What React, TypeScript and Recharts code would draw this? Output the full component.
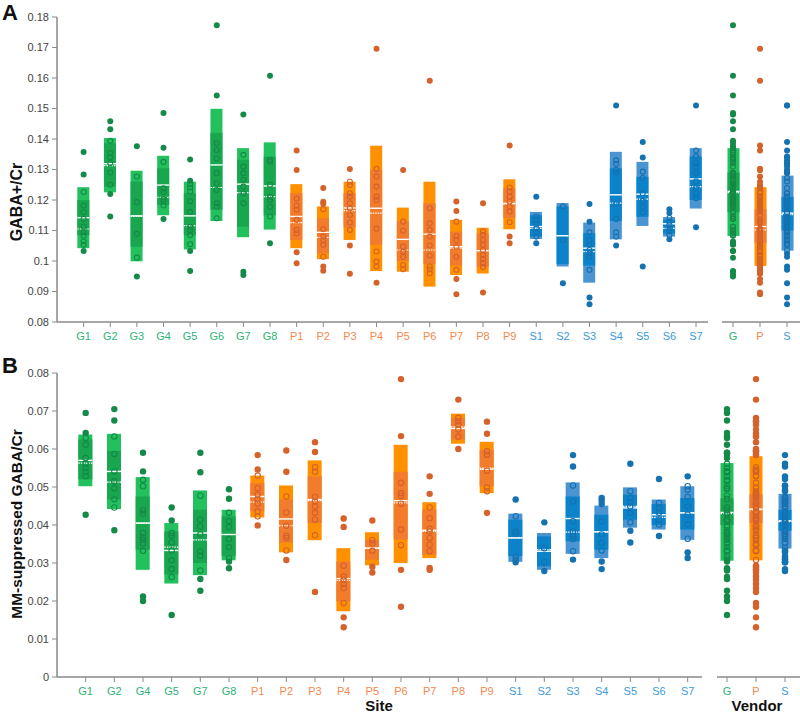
import React from "react"
import { ComposedChart, Bar, Scatter, XAxis, YAxis } from "recharts"

// ---- Panel A: GABA+/Cr ----
const sitesA = ["G1", "G2", "G3", "G4", "G5", "G6", "G7", "G8", "P1", "P2", "P3", "P4", "P5", "P6", "P7", "P8", "P9", "S1", "S2", "S3", "S4", "S5", "S6", "S7"]
const outerHiA = [0.1242, 0.1403, 0.1296, 0.1345, 0.126, 0.1499, 0.137, 0.1389, 0.1252, 0.1179, 0.126, 0.1378, 0.1175, 0.126, 0.1135, 0.1109, 0.1268, 0.1161, 0.119, 0.1126, 0.1358, 0.1325, 0.1144, 0.137]
const outerLoA = [0.1042, 0.1225, 0.0999, 0.115, 0.1038, 0.1131, 0.1078, 0.1103, 0.1042, 0.1006, 0.1069, 0.0967, 0.0965, 0.0916, 0.0954, 0.0959, 0.1104, 0.1072, 0.0982, 0.0929, 0.1071, 0.1115, 0.108, 0.1172]
const innerHiA = [0.12, 0.1386, 0.126, 0.1304, 0.1222, 0.142, 0.1332, 0.1342, 0.1222, 0.114, 0.1222, 0.1299, 0.113, 0.1189, 0.1096, 0.109, 0.1238, 0.115, 0.1179, 0.1091, 0.1304, 0.1276, 0.1135, 0.1343]
const innerLoA = [0.1085, 0.1244, 0.1047, 0.1184, 0.1085, 0.1168, 0.1113, 0.115, 0.1069, 0.1025, 0.111, 0.1053, 0.1, 0.099, 0.0985, 0.098, 0.1141, 0.108, 0.099, 0.0985, 0.1131, 0.1145, 0.109, 0.12]
const meanA = [0.1142, 0.1319, 0.1148, 0.1249, 0.1148, 0.1315, 0.1252, 0.1246, 0.1146, 0.1094, 0.1174, 0.1173, 0.1071, 0.1088, 0.1047, 0.1034, 0.1189, 0.1113, 0.1083, 0.1042, 0.1217, 0.1219, 0.1122, 0.1269]
const medianA = [0.1105, 0.1313, 0.1146, 0.1209, 0.1116, 0.1241, 0.1224, 0.1211, 0.1126, 0.1077, 0.1165, 0.1157, 0.1036, 0.1036, 0.1042, 0.1034, 0.1187, 0.1107, 0.1083, 0.1031, 0.119, 0.1203, 0.1107, 0.1244]
const pointsA = [
  [0.1357, 0.1284, 0.1226, 0.1182, 0.116, 0.1138, 0.1113, 0.1094, 0.1083, 0.1064, 0.1053, 0.1033],
  [0.1458, 0.1432, 0.1394, 0.1354, 0.134, 0.1321, 0.129, 0.125, 0.122, 0.1146],
  [0.1376, 0.1277, 0.1193, 0.1089, 0.1011, 0.0949],
  [0.1485, 0.1371, 0.1325, 0.1238, 0.1226, 0.1203, 0.1195, 0.1182, 0.1138],
  [0.1333, 0.1263, 0.1252, 0.1241, 0.1228, 0.1196, 0.1161, 0.1112, 0.1102, 0.1085, 0.1055, 0.1033, 0.0967],
  [0.1773, 0.1543, 0.1386, 0.1364, 0.1336, 0.1288, 0.1255, 0.1233, 0.1189, 0.1178, 0.114],
  [0.148, 0.1348, 0.131, 0.1288, 0.1266, 0.1244, 0.1222, 0.1189, 0.0965, 0.0954],
  [0.1607, 0.1332, 0.1326, 0.125, 0.1211, 0.12, 0.1178, 0.1146, 0.1058],
  [0.1362, 0.1298, 0.1205, 0.1182, 0.1168, 0.1135, 0.1102, 0.1091, 0.1029, 0.0993],
  [0.1239, 0.1194, 0.1188, 0.117, 0.1104, 0.108, 0.1069, 0.1053, 0.1014, 0.0982, 0.0968],
  [0.1302, 0.126, 0.1249, 0.1222, 0.1211, 0.1189, 0.1173, 0.1151, 0.1126, 0.1102, 0.1051, 0.0958],
  [0.1696, 0.1302, 0.1277, 0.1244, 0.1211, 0.12, 0.1106, 0.1031, 0.0998, 0.0982, 0.0929],
  [0.1298, 0.1129, 0.1099, 0.1047, 0.1031, 0.1014, 0.0987, 0.0973],
  [0.1591, 0.1173, 0.1124, 0.1102, 0.108, 0.1051, 0.1018, 0.0982, 0.0973, 0.096],
  [0.1195, 0.1164, 0.1129, 0.1082, 0.1069, 0.1047, 0.1014, 0.0971, 0.0941, 0.0891],
  [0.1189, 0.1097, 0.1086, 0.1069, 0.1053, 0.1036, 0.102, 0.1006, 0.0993, 0.098, 0.0897],
  [0.1379, 0.1241, 0.1228, 0.1211, 0.1195, 0.1178, 0.1162, 0.1127, 0.108, 0.1058],
  [0.1211, 0.1146, 0.1135, 0.1122, 0.1107, 0.1094, 0.108, 0.1058],
  [0.1179, 0.1069, 0.0927],
  [0.1187, 0.1129, 0.1094, 0.1069, 0.1053, 0.1036, 0.1025, 0.1014, 0.0971, 0.088, 0.0858],
  [0.151, 0.133, 0.1319, 0.1299, 0.129, 0.1187, 0.1138, 0.1094, 0.108, 0.1051],
  [0.139, 0.1339, 0.1293, 0.1272, 0.1222, 0.1197, 0.1178, 0.1159, 0.0982],
  [0.117, 0.1157, 0.1141, 0.1129, 0.1118, 0.1107, 0.1098, 0.1085, 0.1071],
  [0.151, 0.1362, 0.1343, 0.1321, 0.131, 0.1288, 0.1261, 0.1239, 0.1222, 0.1206, 0.1111],
]

const vendors = ["G", "P", "S"]
const vOuterHiA = [0.137, 0.1242, 0.128]
const vOuterLoA = [0.1082, 0.0984, 0.1034]
const vInnerHiA = [0.129, 0.117, 0.121]
const vInnerLoA = [0.116, 0.106, 0.11]
const vMeanA = [0.1228, 0.1113, 0.1157]
const vMedianA = [0.1224, 0.1102, 0.1152]

// ---- Panel B: MM-suppressed GABA/Cr ----
const sitesB = ["G1", "G2", "G4", "G5", "G7", "G8", "P1", "P2", "P3", "P4", "P5", "P6", "P7", "P8", "P9", "S1", "S2", "S3", "S4", "S5", "S6", "S7"]
const outerHiB = [0.0638, 0.064, 0.0526, 0.0405, 0.0491, 0.044, 0.053, 0.0504, 0.057, 0.0339, 0.0381, 0.0611, 0.046, 0.0693, 0.0619, 0.043, 0.0379, 0.0512, 0.0451, 0.0499, 0.0467, 0.0502]
const outerLoB = [0.0502, 0.0442, 0.0282, 0.0246, 0.0268, 0.0307, 0.042, 0.0328, 0.036, 0.0173, 0.0294, 0.03, 0.0313, 0.0614, 0.0484, 0.0303, 0.0282, 0.0324, 0.0313, 0.0393, 0.0388, 0.0361]
const innerHiB = [0.0625, 0.0595, 0.0475, 0.0383, 0.044, 0.0423, 0.051, 0.0467, 0.0528, 0.0304, 0.0361, 0.054, 0.0441, 0.0682, 0.0598, 0.0414, 0.037, 0.0475, 0.0427, 0.048, 0.0455, 0.0471]
const innerLoB = [0.052, 0.0468, 0.0335, 0.027, 0.03, 0.0318, 0.0436, 0.0353, 0.0405, 0.0199, 0.0309, 0.0362, 0.0322, 0.0625, 0.0502, 0.0318, 0.0291, 0.0357, 0.0335, 0.0414, 0.04, 0.0388]
const meanB = [0.057, 0.0541, 0.0405, 0.0333, 0.0379, 0.0375, 0.0475, 0.0416, 0.0467, 0.0259, 0.0339, 0.0464, 0.0386, 0.0654, 0.0547, 0.0366, 0.0331, 0.0417, 0.0382, 0.0445, 0.0427, 0.0432]
const medianB = [0.0563, 0.0513, 0.0405, 0.0342, 0.0361, 0.0375, 0.046, 0.0398, 0.0464, 0.0254, 0.0339, 0.0458, 0.0383, 0.0658, 0.055, 0.0366, 0.0335, 0.0381, 0.0382, 0.0449, 0.042, 0.0432]
const pointsB = [
  [0.0695, 0.0642, 0.0629, 0.0611, 0.0576, 0.0561, 0.055, 0.0541, 0.0528, 0.0427],
  [0.0705, 0.0675, 0.0633, 0.0587, 0.0541, 0.0515, 0.0497, 0.0468, 0.0446, 0.0386],
  [0.059, 0.0541, 0.0519, 0.0502, 0.0439, 0.043, 0.0379, 0.0368, 0.0361, 0.0351, 0.0332, 0.0212, 0.02],
  [0.0446, 0.0412, 0.0379, 0.0372, 0.0354, 0.0333, 0.0307, 0.0284, 0.0263, 0.0163],
  [0.059, 0.0539, 0.0477, 0.0414, 0.0396, 0.0375, 0.033, 0.0319, 0.028, 0.0258, 0.0227],
  [0.0494, 0.0469, 0.0432, 0.041, 0.0395, 0.0363, 0.0342, 0.0312, 0.0304, 0.0286],
  [0.0584, 0.0546, 0.053, 0.0497, 0.048, 0.0467, 0.0456, 0.0436, 0.0423, 0.0399],
  [0.0596, 0.054, 0.0475, 0.0433, 0.0398, 0.0372, 0.0366, 0.0333, 0.0308],
  [0.0618, 0.0592, 0.0552, 0.054, 0.0474, 0.0462, 0.0449, 0.0432, 0.0414, 0.0373, 0.0224],
  [0.0417, 0.0395, 0.0293, 0.0265, 0.0256, 0.0245, 0.0234, 0.0195, 0.0157, 0.0131],
  [0.0412, 0.036, 0.0351, 0.0332, 0.029, 0.0275],
  [0.0784, 0.0634, 0.0511, 0.0484, 0.0477, 0.0456, 0.0388, 0.0347, 0.0282, 0.0185],
  [0.0528, 0.0482, 0.0446, 0.0418, 0.039, 0.0383, 0.0366, 0.0348, 0.0331, 0.0287, 0.0282],
  [0.073, 0.0682, 0.0673, 0.0664, 0.0651, 0.0632, 0.06],
  [0.0672, 0.064, 0.0594, 0.0585, 0.0543, 0.0499, 0.0489, 0.0432],
  [0.0467, 0.0423, 0.0383, 0.0377, 0.0318, 0.0309, 0.0302],
  [0.0407, 0.0339, 0.0302, 0.0279],
  [0.0584, 0.0554, 0.0504, 0.0462, 0.041, 0.0383, 0.037, 0.0363, 0.0331, 0.0309],
  [0.0471, 0.0464, 0.0455, 0.041, 0.0375, 0.0353, 0.0333, 0.0304, 0.0284],
  [0.0561, 0.0489, 0.0471, 0.046, 0.0449, 0.0432, 0.0407, 0.0385, 0.0354],
  [0.0521, 0.0458, 0.0445, 0.0432, 0.0414, 0.0401, 0.0371],
  [0.0528, 0.0502, 0.0493, 0.0474, 0.0449, 0.0427, 0.0401, 0.0364, 0.0328, 0.0313],
]
const vOuterHiB = [0.0563, 0.0581, 0.0482]
const vOuterLoB = [0.0306, 0.0307, 0.0338]
const vInnerHiB = [0.047, 0.048, 0.044]
const vInnerLoB = [0.04, 0.0405, 0.0385]
const vMeanB = [0.0433, 0.0442, 0.0411]
const vMedianB = [0.043, 0.044, 0.0409]

const ticksA = [0.08, 0.09, 0.1, 0.11, 0.12, 0.13, 0.14, 0.15, 0.16, 0.17, 0.18]
const ticksB = [0, 0.01, 0.02, 0.03, 0.04, 0.05, 0.06, 0.07, 0.08]

const palette: any = {
  G: { outer: "#22c15d", inner: "#18a64f", dot: "#158a48", text: "#2db374" },
  P: { outer: "#ff9100", inner: "#f27b2c", dot: "#d4622a", text: "#f5884c" },
  S: { outer: "#4b94d2", inner: "#0b83cb", dot: "#1472b0", text: "#3c9ad8" },
}

const axisColor = "#8a8a8a"

function buildRows(names: string[], hi: number[], lo: number[], ihi: number[], ilo: number[], mean: number[], median: number[]) {
  return names.map((name, i) => ({
    x: i + 1, name, vendor: name[0],
    hi: hi[i], lo: lo[i], ihi: ihi[i], ilo: ilo[i], mean: mean[i], median: median[i],
  }))
}

function buildPoints(rows: any[], pts: number[][]) {
  return rows.flatMap((r, i) =>
    pts[i].map((v) => ({ x: r.x, v, vendor: r.vendor, inside: v <= r.hi && v >= r.lo }))
  )
}

// vendor columns pool every site of that vendor
function pool(names: string[], pts: number[][]) {
  return vendors.map((vd) => names.flatMap((n, i) => (n[0] === vd ? pts[i] : [])))
}

const rowsA = buildRows(sitesA, outerHiA, outerLoA, innerHiA, innerLoA, meanA, medianA)
const dotsA = buildPoints(rowsA, pointsA)
const vRowsA = buildRows(vendors, vOuterHiA, vOuterLoA, vInnerHiA, vInnerLoA, vMeanA, vMedianA)
const vDotsA = buildPoints(vRowsA, pool(sitesA, pointsA))

const rowsB = buildRows(sitesB, outerHiB, outerLoB, innerHiB, innerLoB, meanB, medianB)
const dotsB = buildPoints(rowsB, pointsB)
const vRowsB = buildRows(vendors, vOuterHiB, vOuterLoB, vInnerHiB, vInnerLoB, vMeanB, vMedianB)
const vDotsB = buildPoints(vRowsB, pool(sitesB, pointsB))

function BoxShape(props: any) {
  const { x, y, width, height, payload: d } = props
  const top = Math.min(y, y + height)
  const h = Math.abs(height)
  const k = h / (d.hi - d.lo)
  const py = (v: number) => top + (d.hi - v) * k
  const c = palette[d.vendor]
  return (
    <g>
      <rect x={x} y={top} width={width} height={h} fill={c.outer} />
      <rect x={x} y={py(d.ihi)} width={width} height={py(d.ilo) - py(d.ihi)} fill={c.inner} />
      <line x1={x} x2={x + width} y1={py(d.mean)} y2={py(d.mean)} stroke="#fff" strokeWidth={1.4} />
      <line x1={x} x2={x + width} y1={py(d.median)} y2={py(d.median)} stroke="#fff" strokeWidth={1.2} strokeDasharray="1.5 1" />
    </g>
  )
}

function makeDot(r: number) {
  return (props: any) => {
    const { cx, cy, payload } = props
    const c = palette[payload.vendor]
    if (payload.inside) {
      return <circle cx={cx} cy={cy} r={r - 0.5} fill="none" stroke={c.dot} strokeWidth={1.1} />
    }
    return <circle cx={cx} cy={cy} r={r} fill={c.dot} />
  }
}

function makeTick(names: string[]) {
  return (props: any) => {
    const { x, y, payload } = props
    const name = names[payload.value - 1]
    if (!name) return null
    return (
      <text x={x} y={y} dy="0.71em" textAnchor="middle" fontSize={11} fill={palette[name[0]].text}>
        {name}
      </text>
    )
  }
}

const fmtY = (v: number) => String(Number(v.toFixed(2)))

type StripProps = {
  rows: any[]
  dots: any[]
  names: string[]
  width: number
  height: number
  xDomain: [number, number]
  yDomain: [number, number]
  yTicks: number[]
  barSize: number
  r: number
  showY: boolean
  marginRight: number
}

function Strip({ rows, dots, names, width, height, xDomain, yDomain, yTicks, barSize, r, showY, marginRight }: StripProps) {
  return (
    <ComposedChart width={width} height={height} data={rows} margin={{ top: 17, right: marginRight, left: 0, bottom: 0 }}>
      <XAxis
        dataKey="x"
        type="number"
        domain={xDomain}
        allowDataOverflow
        ticks={rows.map((d) => d.x)}
        interval={0}
        height={33}
        tick={makeTick(names)}
        tickSize={5}
        tickMargin={5}
        axisLine={{ stroke: axisColor, strokeWidth: 1.5 }}
        tickLine={{ stroke: axisColor, strokeWidth: 1 }}
      />
      <YAxis
        type="number"
        domain={yDomain}
        allowDataOverflow
        ticks={yTicks}
        interval={0}
        hide={!showY}
        width={57}
        tickFormatter={fmtY}
        tick={{ fontSize: 11, fill: "#444" }}
        tickSize={5}
        tickMargin={3}
        axisLine={{ stroke: axisColor, strokeWidth: 1.5 }}
        tickLine={{ stroke: axisColor, strokeWidth: 1 }}
      />
      <Bar
        dataKey={(d: any) => [d.lo, d.hi]}
        barSize={barSize}
        shape={BoxShape}
        isAnimationActive={false}
      />
      <Scatter data={dots} dataKey="v" shape={makeDot(r)} isAnimationActive={false} />
    </ComposedChart>
  )
}

const abs = (left: number, top: number): React.CSSProperties => ({ position: "absolute", left, top })

export default function App() {
  return (
    <div
      style={{
        position: "absolute", left: 0, top: 0, width: 800, height: 714, overflow: "hidden",
        background: "#fff", fontFamily: "'Liberation Sans', Arial, Helvetica, sans-serif", color: "#111",
      }}
    >
      {/* panel A */}
      <div style={abs(0, 0)}>
        <Strip rows={rowsA} dots={dotsA} names={sitesA} width={712} height={355} xDomain={[0, 24.45]}
          yDomain={[0.08, 0.18]} yTicks={ticksA} barSize={12} r={3} showY marginRight={4} />
      </div>
      <div style={abs(722, 0)}>
        <Strip rows={vRowsA} dots={vDotsA} names={vendors} width={78} height={355} xDomain={[0.593, 3.48]}
          yDomain={[0.08, 0.18]} yTicks={ticksA} barSize={12} r={3} showY={false} marginRight={0} />
      </div>

      {/* panel B */}
      <div style={abs(0, 356)}>
        <Strip rows={rowsB} dots={dotsB} names={sitesB} width={706} height={354} xDomain={[0, 22.5]}
          yDomain={[0, 0.08]} yTicks={ticksB} barSize={14} r={3.2} showY marginRight={4} />
      </div>
      <div style={abs(717, 356)}>
        <Strip rows={vRowsB} dots={vDotsB} names={vendors} width={83} height={354} xDomain={[0.655, 3.517]}
          yDomain={[0, 0.08]} yTicks={ticksB} barSize={13} r={3.2} showY={false} marginRight={0} />
      </div>

      {/* labels */}
      <div style={{ ...abs(2, 0), fontSize: 22, fontWeight: 700, lineHeight: "26px" }}>A</div>
      <div style={{ ...abs(2, 353), fontSize: 22, fontWeight: 700, lineHeight: "26px" }}>B</div>
      <div style={{ ...abs(17, 202), transform: "translate(-50%, -50%) rotate(-90deg)", fontSize: 16, fontWeight: 700, whiteSpace: "nowrap" }}>
        GABA+/Cr
      </div>
      <div style={{ ...abs(17, 524), transform: "translate(-50%, -50%) rotate(-90deg)", fontSize: 15.5, fontWeight: 700, whiteSpace: "nowrap" }}>
        MM-suppressed GABA/Cr
      </div>
      <div style={{ ...abs(379, 705), transform: "translate(-50%, -50%)", fontSize: 15, fontWeight: 700, lineHeight: "15px" }}>Site</div>
      <div style={{ ...abs(757, 705), transform: "translate(-50%, -50%)", fontSize: 15, fontWeight: 700, lineHeight: "15px" }}>Vendor</div>
    </div>
  )
}
